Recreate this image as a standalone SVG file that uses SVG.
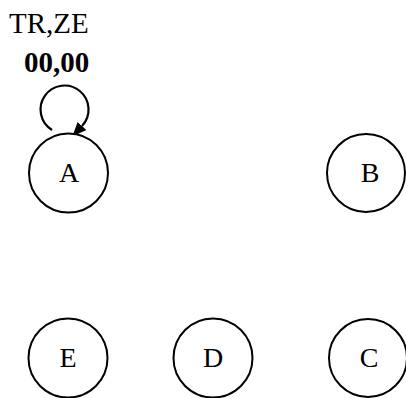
<svg xmlns="http://www.w3.org/2000/svg" width="406" height="398" viewBox="0 0 406 398">
<defs>
<style>
.node circle{fill:#fff;stroke:#000;stroke-width:2}
.node text{font-family:"Liberation Serif","Times New Roman",serif;font-size:28px;text-anchor:middle;fill:#000}
.lbl{font-family:"Liberation Serif","Times New Roman",serif;font-size:29px;fill:#000}
.edge{fill:none;stroke:#000;stroke-width:2.2}
</style>
<marker id="arr" markerWidth="14" markerHeight="12" refX="0" refY="6" orient="auto" markerUnits="userSpaceOnUse" viewBox="0 0 14 12">
<path d="M0,0 L14,6 L0,12 Z" fill="#000"/>
</marker>
</defs>
<g id="edges">
<path class="edge" d="M52,130 A24,24 0 1 1 82,126" marker-end="url(#arr)"/>
</g>
<g id="labels">
<text class="lbl" x="9" y="33">TR,ZE</text>
<text class="lbl" x="24" y="72" font-weight="bold">00,00</text>
</g>
<g id="A" class="node"><circle cx="68.5" cy="173" r="39.5"/><text x="69" y="182">A</text></g>
<g id="B" class="node"><circle cx="366" cy="173" r="39"/><text x="370" y="182">B</text></g>
<g id="C" class="node"><circle cx="368" cy="358" r="39"/><text x="369" y="367">C</text></g>
<g id="D" class="node"><circle cx="213" cy="358" r="39.5"/><text x="213" y="367">D</text></g>
<g id="E" class="node"><circle cx="68" cy="358" r="39.5"/><text x="68" y="367">E</text></g>
</svg>
